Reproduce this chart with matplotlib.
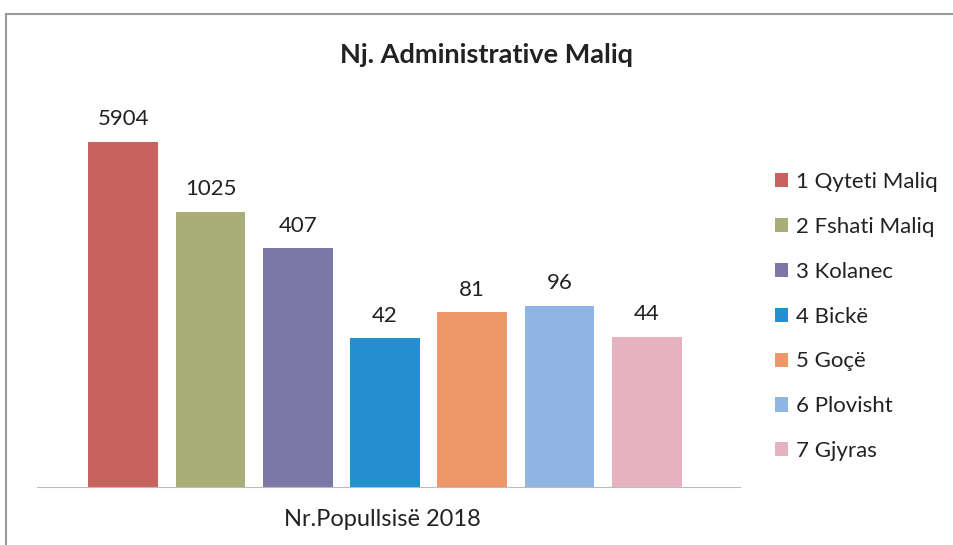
import matplotlib
matplotlib.use("Agg")
import matplotlib.pyplot as plt
from matplotlib.patches import Patch
from matplotlib.lines import Line2D

categories = ["1 Qyteti Maliq", "2 Fshati Maliq", "3 Kolanec", "4 Bickë", "5 Goçë", "6 Plovisht", "7 Gjyras"]
values = [5904, 1025, 407, 42, 81, 96, 44]
colors = ["#C8625F", "#A9AE78", "#7B77A6", "#2391D0", "#F0976A", "#8FB5E3", "#E6B2C0"]
title = "Nj. Administrative Maliq"
xlabel = "Nr.Popullsisë 2018"

plt.rcParams['font.family'] = ['Lato', 'DejaVu Sans']

W, H = 954, 545
fig = plt.figure(figsize=(W / 100, H / 100), dpi=100)
fig.patch.set_facecolor("white")

# frame lines
fig.add_artist(Line2D([6 / W, 1.0], [1 - 14 / H, 1 - 14 / H], color="#9a9a9a", lw=1.5))
fig.add_artist(Line2D([6 / W, 6 / W], [0, 1 - 14 / H], color="#9a9a9a", lw=1.5))

left, right, bottom, top = 37, 740, 487, 100
ax = fig.add_axes([left / W, 1 - bottom / H, (right - left) / W, (bottom - top) / H])
ax.set_yscale("log")
ax.set_ylim(1, 10 ** ((bottom - top) / 91.5))
ax.set_xlim(-0.99, 7.07)

xs = list(range(len(values)))
bars = ax.bar(xs, values, width=0.8, color=colors)
for x, v in zip(xs, values):
    ax.annotate(str(v), (x, v), xytext=(0, 9), textcoords="offset points",
                ha="center", va="bottom", fontsize=16, color="#222222")

for s in ["top", "right", "left"]:
    ax.spines[s].set_visible(False)
ax.spines["bottom"].set_color("#bbbbbb")
ax.set_xticks([])
ax.set_yticks([])
ax.yaxis.set_minor_locator(matplotlib.ticker.NullLocator())

fig.text(487 / W, 1 - 55 / H, title, ha="center", va="center", fontsize=19.5, fontweight="bold", color="#222222")
fig.text(382 / W, 1 - 520 / H, xlabel, ha="center", va="center", fontsize=17, color="#222222")

handles = [Patch(facecolor=c, edgecolor="none") for c in colors]
fig.legend(handles, categories, loc="upper left", bbox_to_anchor=(766 / W, 1 - 163 / H),
           frameon=False, fontsize=16, handlelength=0.6, handleheight=0.6,
           handletextpad=0.35, labelspacing=1.12, borderaxespad=0, labelcolor="#222222")

fig.savefig("out.png", dpi=100)
